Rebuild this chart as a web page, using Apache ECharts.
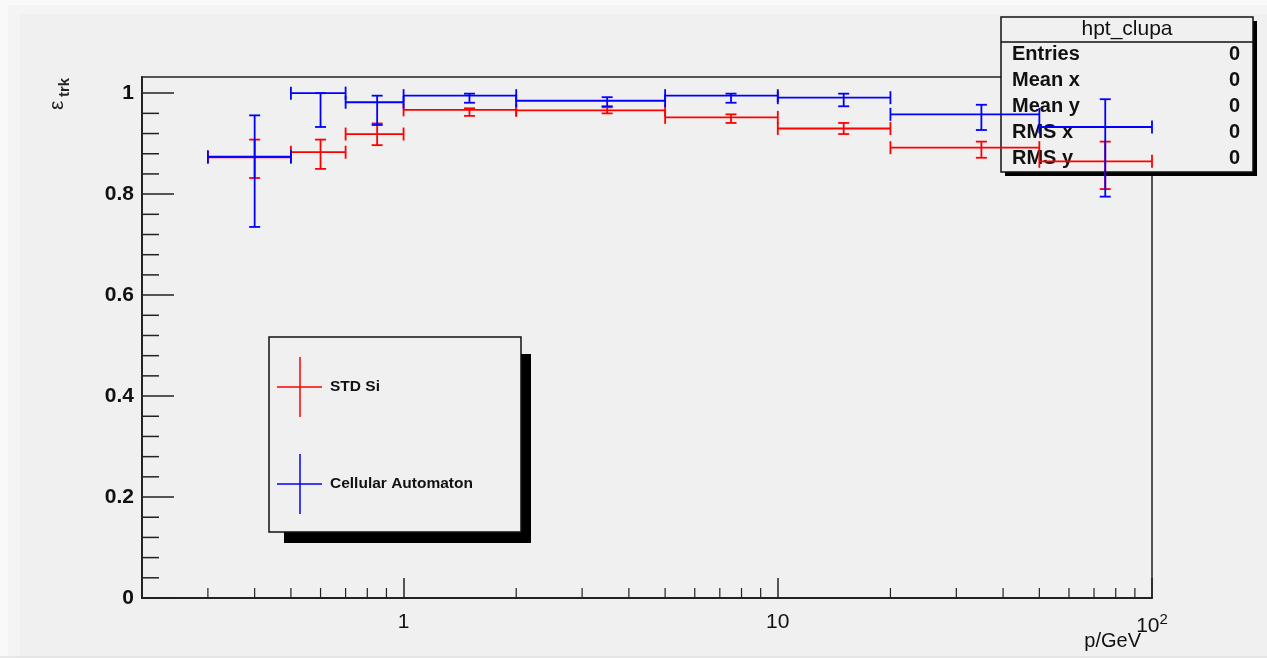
<!DOCTYPE html>
<html>
<head>
<meta charset="utf-8">
<script src="https://cdn.jsdelivr.net/npm/echarts@6/dist/echarts.min.js"></script>
<style>
  html, body { margin: 0; padding: 0; background: #f9f9f9; }
  #chart { width: 1267px; height: 658px; }
</style>
</head>
<body>
<div id="chart"></div>
<script>
// bins in p/GeV
var binLow = [0.3, 0.5, 0.7, 1, 2, 5, 10, 20, 50];
var binHigh = [0.5, 0.7, 1, 2, 5, 10, 20, 50, 100];
var binCenter = [0.4, 0.6, 0.85, 1.5, 3.5, 7.5, 15, 35, 75];

// STD Si efficiency and error bar ends
var stdSi = [0.873, 0.883, 0.919, 0.967, 0.966, 0.952, 0.930, 0.892, 0.865];
var stdSiLo = [0.832, 0.850, 0.897, 0.955, 0.960, 0.941, 0.919, 0.872, 0.810];
var stdSiHi = [0.908, 0.908, 0.940, 0.970, 0.972, 0.958, 0.941, 0.904, 0.904];

// Cellular Automaton efficiency and error bar ends
var cellAuto = [0.874, 1.000, 0.982, 0.995, 0.985, 0.995, 0.991, 0.958, 0.933];
var cellAutoLo = [0.735, 0.933, 0.937, 0.981, 0.974, 0.981, 0.974, 0.927, 0.795];
var cellAutoHi = [0.956, 1.000, 0.995, 0.999, 0.992, 0.999, 0.999, 0.977, 0.988];

var xMinorTicks = [0.3, 0.4, 0.5, 0.6, 0.7, 0.8, 0.9, 2, 3, 4, 5, 6, 7, 8, 9, 20, 30, 40, 50, 60, 70, 80, 90];
var yMinorTicks = [0.04, 0.08, 0.12, 0.16, 0.24, 0.28, 0.32, 0.36, 0.44, 0.48, 0.52, 0.56,
                   0.64, 0.68, 0.72, 0.76, 0.84, 0.88, 0.92, 0.96];

var statRows = ['Entries', 'Mean x', 'Mean y', 'RMS x', 'RMS y'];
var statValues = ['0', '0', '0', '0', '0'];

var font = "'Liberation Sans', Arial, sans-serif";
var xMin = 0.2, xMax = 100;

function makeRows(val, lo, hi) {
  return val.map(function(v, i) {
    return [binLow[i], binHigh[i], binCenter[i], v, lo[i], hi[i]];
  });
}

function renderErr(params, api) {
  var y = api.value(3);
  var a = api.coord([api.value(0), y]);
  var b = api.coord([api.value(1), y]);
  var c = api.coord([api.value(2), y]);
  var lo = api.coord([api.value(2), api.value(4)]);
  var hi = api.coord([api.value(2), api.value(5)]);
  var color = api.visual('color');
  var e = 6.5, w = 5.5;
  var segs = [
    [a[0], c[1], b[0], c[1]],
    [a[0], c[1] - e, a[0], c[1] + e],
    [b[0], c[1] - e, b[0], c[1] + e],
    [c[0], hi[1], c[0], lo[1]],
    [c[0] - w, hi[1], c[0] + w, hi[1]],
    [c[0] - w, lo[1], c[0] + w, lo[1]]
  ];
  return {
    type: 'group',
    children: segs.map(function(s) {
      return { type: 'line', shape: { x1: s[0], y1: s[1], x2: s[2], y2: s[3] },
               style: { stroke: color, lineWidth: 1.8 } };
    })
  };
}

function renderXTick(params, api) {
  var p = api.coord([api.value(0), 0]);
  return { type: 'line', shape: { x1: p[0], y1: p[1], x2: p[0], y2: p[1] - 10 },
           style: { stroke: '#222', lineWidth: 1.2 } };
}

function renderYTick(params, api) {
  var p = api.coord([xMin, api.value(1)]);
  return { type: 'line', shape: { x1: p[0], y1: p[1], x2: p[0] + 17, y2: p[1] },
           style: { stroke: '#222', lineWidth: 1.5 } };
}

var graphics = [
  { type: 'rect', z: -10, shape: { x: 8, y: 5, width: 1259, height: 652 }, style: { fill: '#f4f4f4' } },
  { type: 'rect', z: -9, shape: { x: 20, y: 14, width: 1247, height: 643 }, style: { fill: '#f0f0f0' } },
  { type: 'line', z: -8, shape: { x1: 0, y1: 657, x2: 1267, y2: 657 }, style: { stroke: '#d8d8d8', lineWidth: 1 } },
  // y title
  { type: 'text', x: 57, y: 110, rotation: Math.PI / 2,
    style: { text: 'ε', font: '21px ' + font, fill: '#222', align: 'left', verticalAlign: 'middle' } },
  { type: 'text', x: 65, y: 97, rotation: Math.PI / 2,
    style: { text: 'trk', font: 'bold 15px ' + font, fill: '#222', align: 'left', verticalAlign: 'middle' } },
  // x title
  { type: 'text', x: 1141, y: 641,
    style: { text: 'p/GeV', font: '20px ' + font, fill: '#111', align: 'right', verticalAlign: 'middle' } },
  // stats box
  { type: 'rect', z: 3, shape: { x: 1005, y: 21, width: 252, height: 155 }, style: { fill: '#000' } },
  { type: 'rect', z: 3, shape: { x: 1001, y: 17, width: 252, height: 155 },
    style: { fill: '#f0f0f0', stroke: '#111', lineWidth: 1.5 } },
  { type: 'line', z: 3, shape: { x1: 1001, y1: 42, x2: 1253, y2: 42 }, style: { stroke: '#111', lineWidth: 1.5 } },
  { type: 'text', z: 3, x: 1127, y: 29,
    style: { text: 'hpt_clupa', font: '21px ' + font, fill: '#111', align: 'center', verticalAlign: 'middle' } },
  // legend box
  { type: 'rect', z: 3, shape: { x: 284, y: 531, width: 247, height: 12 }, style: { fill: '#000' } },
  { type: 'rect', z: 3, shape: { x: 520, y: 354, width: 11, height: 189 }, style: { fill: '#000' } },
  { type: 'rect', z: 3, shape: { x: 269, y: 337, width: 252, height: 195 },
    style: { fill: '#f0f0f0', stroke: '#111', lineWidth: 1.5 } },
  { type: 'line', z: 4, shape: { x1: 277, y1: 387, x2: 322, y2: 387 }, style: { stroke: '#ff0000', lineWidth: 1.5 } },
  { type: 'line', z: 4, shape: { x1: 300, y1: 357, x2: 300, y2: 417 }, style: { stroke: '#ff0000', lineWidth: 1.5 } },
  { type: 'text', z: 4, x: 330, y: 387,
    style: { text: 'STD Si', font: 'bold 15.5px ' + font, fill: '#111', align: 'left', verticalAlign: 'middle' } },
  { type: 'line', z: 4, shape: { x1: 277, y1: 484, x2: 322, y2: 484 }, style: { stroke: '#0000ff', lineWidth: 1.5 } },
  { type: 'line', z: 4, shape: { x1: 300, y1: 454, x2: 300, y2: 514 }, style: { stroke: '#0000ff', lineWidth: 1.5 } },
  { type: 'text', z: 4, x: 330, y: 484,
    style: { text: 'Cellular Automaton', font: 'bold 15.5px ' + font, fill: '#111', align: 'left', verticalAlign: 'middle' } }
];

statRows.forEach(function(name, i) {
  var yy = 54 + i * 26.2;
  graphics.push({ type: 'text', z: 3, x: 1012, y: yy,
    style: { text: name, font: 'bold 20px ' + font, fill: '#111', align: 'left', verticalAlign: 'middle' } });
  graphics.push({ type: 'text', z: 3, x: 1240, y: yy,
    style: { text: statValues[i], font: 'bold 20px ' + font, fill: '#111', align: 'right', verticalAlign: 'middle' } });
});

var chart = echarts.init(document.getElementById('chart'), null, { renderer: 'canvas' });
chart.setOption({
  animation: false,
  grid: { left: 142, top: 77, right: 115, bottom: 60, show: true,
          borderColor: '#222', borderWidth: 1.5, backgroundColor: 'transparent' },
  xAxis: {
    type: 'log', logBase: 10, min: xMin, max: xMax,
    axisLine: { show: true, lineStyle: { color: '#222', width: 2 } },
    axisTick: { show: true, inside: true, length: 20, lineStyle: { color: '#222', width: 1.5 } },
    splitLine: { show: false },
    axisLabel: {
      showMinLabel: false, margin: 14, color: '#111', fontFamily: font, fontSize: 21,
      formatter: function(v) {
        var e = Math.round(Math.log10(v));
        if (Math.abs(v - Math.pow(10, e)) > 1e-6 * v) return '';
        if (e === 0) return '1';
        if (e === 1) return '10';
        return '10{s|' + e + '}';
      },
      rich: { s: { fontSize: 15, fontFamily: font, color: '#111', verticalAlign: 'top', padding: [0, 0, 14, 0] } }
    }
  },
  yAxis: {
    type: 'value', min: 0, max: 1.032, interval: 0.2,
    axisLine: { show: true, lineStyle: { color: '#222', width: 2 } },
    axisTick: { show: true, inside: true, length: 32, lineStyle: { color: '#222', width: 1.5 } },
    splitLine: { show: false },
    axisLabel: { showMaxLabel: false, margin: 8, color: '#111', fontFamily: font,
                 fontSize: 21, fontWeight: 'bold' }
  },
  series: [
    { type: 'custom', name: 'x ticks', silent: true, z: 1, renderItem: renderXTick,
      data: xMinorTicks.map(function(v) { return [v, 0]; }) },
    { type: 'custom', name: 'y ticks', silent: true, z: 1, renderItem: renderYTick,
      data: yMinorTicks.map(function(v) { return [xMin, v]; }) },
    { type: 'custom', name: 'STD Si', z: 10, color: '#ff0000', renderItem: renderErr,
      encode: { x: [0, 1, 2], y: [3, 4, 5] }, data: makeRows(stdSi, stdSiLo, stdSiHi) },
    { type: 'custom', name: 'Cellular Automaton', z: 11, color: '#0000ff', renderItem: renderErr,
      encode: { x: [0, 1, 2], y: [3, 4, 5] }, data: makeRows(cellAuto, cellAutoLo, cellAutoHi) }
  ],
  graphic: graphics
});
window.addEventListener('resize', function() { chart.resize(); });
</script>
</body>
</html>
